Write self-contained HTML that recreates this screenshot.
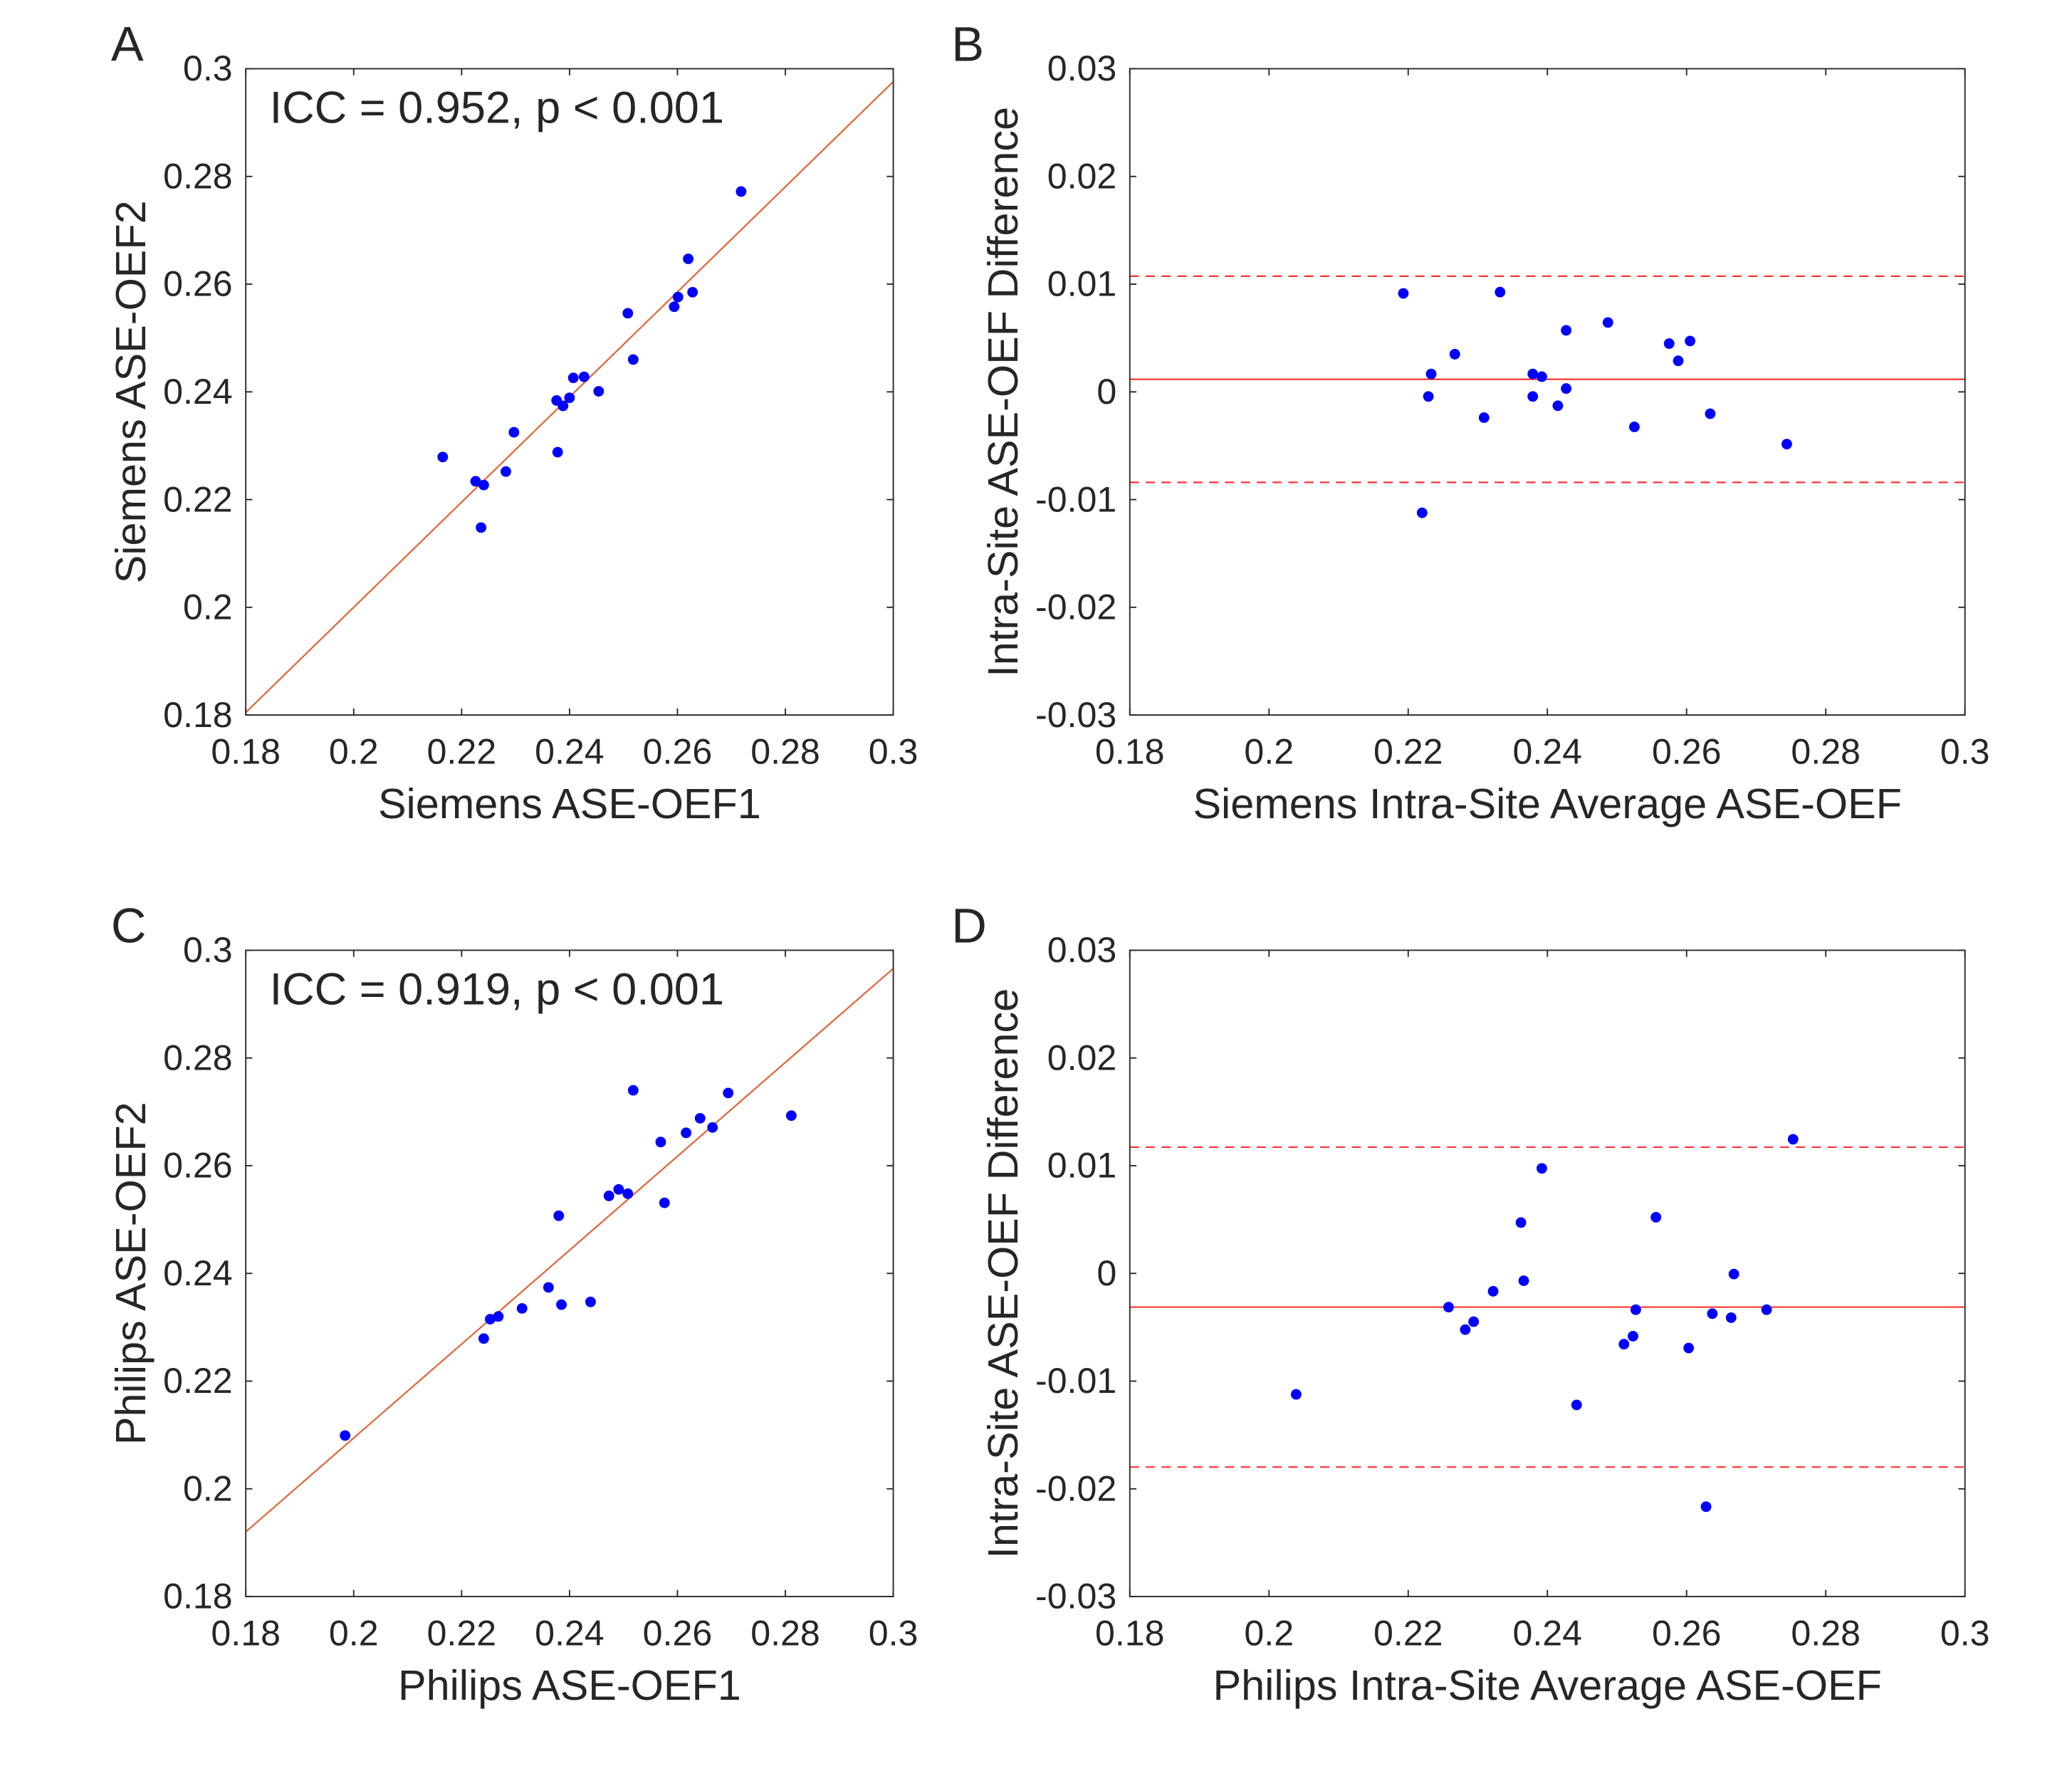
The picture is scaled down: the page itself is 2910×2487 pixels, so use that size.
<!DOCTYPE html>
<html><head><meta charset="utf-8"><style>
html,body{margin:0;padding:0;background:#fff}
svg{display:block}
text{font-family:"Liberation Sans",Arial,sans-serif;fill:#262626}
</style></head><body>
<svg id="fig" width="2910" height="2487" viewBox="0 0 1568 1340" preserveAspectRatio="none" xmlns="http://www.w3.org/2000/svg">
<rect width="1568" height="1340" fill="#fff"/>
</svg>
<script>
const xTicks=[0.18,0.2,0.22,0.24,0.26,0.28,0.3];
const xTickLabels=['0.18','0.2','0.22','0.24','0.26','0.28','0.3'];
const yTicksAC=[0.18,0.2,0.22,0.24,0.26,0.28,0.3];
const yTickLabelsAC=['0.18','0.2','0.22','0.24','0.26','0.28','0.3'];
const yTicksBD=[-0.03,-0.02,-0.01,0,0.01,0.02,0.03];
const yTickLabelsBD=['-0.03','-0.02','-0.01','0','0.01','0.02','0.03'];

const aX=[0.2165,0.2226,0.2241,0.2236,0.2282,0.2297,0.2376,0.2378,0.2388,0.2400,0.2407,0.2427,0.2454,0.2508,0.2518,0.2594,0.2601,0.2620,0.2628,0.2718];
const aY=[0.2279,0.2234,0.2227,0.2148,0.2252,0.2325,0.2384,0.2288,0.2374,0.2389,0.2426,0.2428,0.2401,0.2546,0.2460,0.2558,0.2576,0.2647,0.2585,0.2772];
const aFit=[0.0048,0.976];
const bX=[0.2193,0.2332,0.2267,0.2233,0.2229,0.2220,0.2309,0.2379,0.2392,0.2379,0.2415,0.2427,0.2427,0.2487,0.2575,0.2588,0.2605,0.2634,0.2525,0.2744];
const bY=[0.00914,0.00926,0.00350,0.00166,-0.00043,-0.01123,-0.00239,0.00166,0.00141,-0.00043,-0.00129,0.00571,0.00031,0.00644,0.00448,0.00288,0.00472,-0.00203,-0.00325,-0.00485];
const bLines=[0.00117,0.01074,-0.00840];
const cX=[0.1984,0.2241,0.2253,0.2268,0.2312,0.2361,0.2380,0.2385,0.2439,0.2473,0.2491,0.2508,0.2518,0.2569,0.2576,0.2616,0.2642,0.2665,0.2694,0.2811];
const cY=[0.2099,0.2279,0.2315,0.2320,0.2335,0.2374,0.2507,0.2342,0.2347,0.2544,0.2556,0.2548,0.2740,0.2644,0.2531,0.2661,0.2688,0.2671,0.2735,0.2693];
const cFit=[0.0351,0.8717];
const dX=[0.2039,0.2258,0.2282,0.2294,0.2322,0.2362,0.2366,0.2392,0.2442,0.2510,0.2523,0.2527,0.2556,0.2603,0.2628,0.2637,0.2664,0.2668,0.2715,0.2753];
const dY=[-0.01123,-0.00313,-0.00522,-0.00448,-0.00166,0.00472,-0.00068,0.00975,-0.01221,-0.00657,-0.00583,-0.00337,0.00521,-0.00693,-0.02166,-0.00374,-0.00411,-0.00006,-0.00337,0.01245];
const dLines=[-0.00313,0.01172,-0.01798];

const NS='http://www.w3.org/2000/svg';
const svg=document.getElementById('fig');
function el(tag,attrs,parent){const e=document.createElementNS(NS,tag);for(const k in attrs)e.setAttribute(k,attrs[k]);(parent||svg).appendChild(e);return e;}

function panel(p){
  const g=el('g',{});
  
  
  const sx=v=>p.x0+(v-p.xmin)/(p.xmax-p.xmin)*(p.x1-p.x0);
  const sy=v=>p.y0-(v-p.ymin)/(p.ymax-p.ymin)*(p.y0-p.y1);
  const clip=el('clipPath',{id:'clip'+p.id},g);
  el('rect',{x:p.x0,y:p.y1,width:p.x1-p.x0,height:p.y0-p.y1},clip);
  const lg=el('g',{'clip-path':'url(#clip'+p.id+')'},g);
  if(p.fit){
    const l=el('line',{x1:sx(p.xmin),y1:sy(p.fit[0]+p.fit[1]*p.xmin),x2:sx(p.xmax),y2:sy(p.fit[0]+p.fit[1]*p.xmax),stroke:'#e0663a','stroke-width':1.2},lg);
    
    
  }
  if(p.lines){
    p.lines.forEach((v,i)=>{
      const l=el('line',{x1:p.x0,x2:p.x1,y1:sy(v),y2:sy(v),stroke:'#ff3333','stroke-width':1.2},lg);
      if(i>0)l.setAttribute('stroke-dasharray','7,5');
      
      
    });
  }
  p.xs.forEach((v,i)=>{
    const c=el('circle',{cx:sx(v),cy:sy(p.ys[i]),r:4,fill:'#0000ff'},g);
    
    
  });
  const b=el('rect',{x:p.x0,y:p.y1,width:p.x1-p.x0,height:p.y0-p.y1,fill:'none',stroke:'#262626','stroke-width':1},g);
  
  
  xTicks.forEach((v,i)=>{
    const x=sx(v);
    el('line',{x1:x,x2:x,y1:p.y0,y2:p.y0-5,stroke:'#262626'},g);
    el('line',{x1:x,x2:x,y1:p.y1,y2:p.y1+5,stroke:'#262626'},g);
    const t=el('text',{x:x,y:p.y0+37,'text-anchor':'middle','font-size':27},g);
    t.textContent=xTickLabels[i];
    
    
  });
  p.yt.forEach((v,i)=>{
    const y=sy(v);
    el('line',{x1:p.x0,x2:p.x0+5,y1:y,y2:y,stroke:'#262626'},g);
    el('line',{x1:p.x1,x2:p.x1-5,y1:y,y2:y,stroke:'#262626'},g);
    const t=el('text',{x:p.x0-10,y:y+9,'text-anchor':'end','font-size':27},g);
    t.textContent=p.ytl[i];
    
    
  });
  const xl=el('text',{x:(p.x0+p.x1)/2,y:p.y0+78,'text-anchor':'middle','font-size':32},g);
  xl.textContent=p.xlabel;
  
  
  const yl=el('text',{x:0,y:0,'text-anchor':'middle','font-size':32,transform:'translate('+p.ylx+','+((p.y0+p.y1)/2)+') rotate(-90)'},g);
  yl.textContent=p.ylabel;
  
  
  const pl=el('text',{x:p.lx,y:p.y1-6,'font-size':37,fill:'#000'},g);
  pl.textContent=p.id;
  
  
  if(p.icc){
    const t=el('text',{x:p.x0+18,y:p.y1+41,'font-size':34,fill:'#000'},g);
    t.textContent=p.icc;
    
    
  }
}
panel({id:'A',x0:186,x1:676,y0:541,y1:52,xmin:0.18,xmax:0.3,ymin:0.18,ymax:0.3,xs:aX,ys:aY,fit:aFit,yt:yTicksAC,ytl:yTickLabelsAC,xlabel:'Siemens ASE-OEF1',ylabel:'Siemens ASE-OEF2',ylx:110,lx:84,icc:'ICC = 0.952, p < 0.001'});
panel({id:'B',x0:855,x1:1487,y0:541,y1:52,xmin:0.18,xmax:0.3,ymin:-0.03,ymax:0.03,xs:bX,ys:bY,lines:bLines,yt:yTicksBD,ytl:yTickLabelsBD,xlabel:'Siemens Intra-Site Average ASE-OEF',ylabel:'Intra-Site ASE-OEF Difference',ylx:770,lx:720});
panel({id:'C',x0:186,x1:676,y0:1208,y1:719,xmin:0.18,xmax:0.3,ymin:0.18,ymax:0.3,xs:cX,ys:cY,fit:cFit,yt:yTicksAC,ytl:yTickLabelsAC,xlabel:'Philips ASE-OEF1',ylabel:'Philips ASE-OEF2',ylx:110,lx:84,icc:'ICC = 0.919, p < 0.001'});
panel({id:'D',x0:855,x1:1487,y0:1208,y1:719,xmin:0.18,xmax:0.3,ymin:-0.03,ymax:0.03,xs:dX,ys:dY,lines:dLines,yt:yTicksBD,ytl:yTickLabelsBD,xlabel:'Philips Intra-Site Average ASE-OEF',ylabel:'Intra-Site ASE-OEF Difference',ylx:770,lx:720});
</script>
</body></html>
